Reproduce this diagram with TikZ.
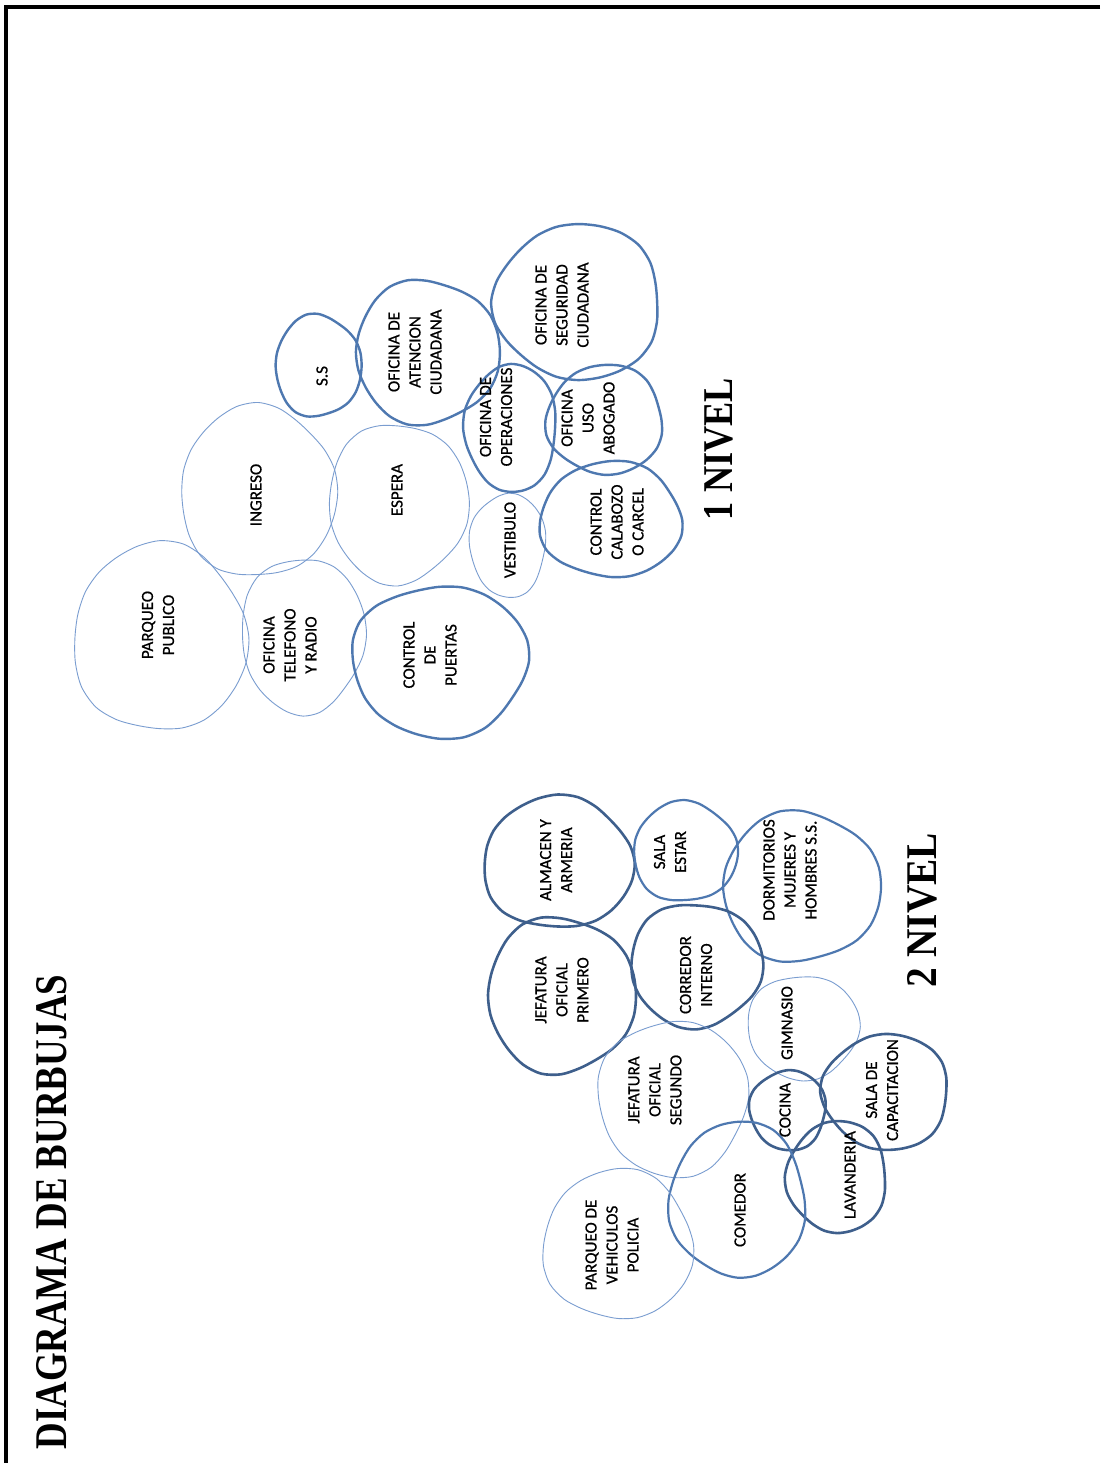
\documentclass[tikz,border=0pt]{standalone}
\usepackage{fontspec}
\usepackage{graphicx}
\newfontfamily\lblfont[FakeBold=0.7]{Carlito}
\newfontfamily\ttlfont{Liberation Serif}
\definecolor{cthin}{HTML}{7A9DD0}
\definecolor{cmed}{HTML}{4E78B0}
\definecolor{cdark}{HTML}{3E5F8C}
\newcommand{\blob}[6]{%
  \draw[#6] plot[smooth cycle, domain=0:345, samples=24, variable=\t]
   ({#1+#3*cos(\t)*(1+0.03*sin(3*\t+#5)+0.018*cos(5*\t+2*#5))},
    {#2+#4*sin(\t)*(1+0.03*sin(3*\t+#5)+0.018*cos(5*\t+2*#5))});}
\begin{document}
\begin{tikzpicture}[x=1pt,y=-1pt,
  lab/.style={font=\lblfont\fontsize{17}{21}\selectfont, rotate=90, align=center, inner sep=0pt},
  thinb/.style={draw=cthin, line width=0.9pt},
  medb/.style={draw=cmed, line width=2.2pt},
  thickb/.style={draw=cmed, line width=2.4pt},
  darkb/.style={draw=cdark, line width=2.6pt},
  bigtitle/.style={rotate=90, inner sep=0pt}]
\useasboundingbox (0,0) rectangle (1100,1463);
\fill[white] (0,0) rectangle (1100,1463);
\draw[line width=4pt] (1100,7.5) -- (6,7.5) -- (6,1463);

% ---------- 1 NIVEL ----------
\blob{160}{638}{87}{94}{10}{thinb}
\blob{258}{492}{78}{86}{40}{thinb}
\blob{318}{366}{43}{51}{70}{thickb}
\blob{427}{352}{72}{72}{100}{thickb}
\blob{398}{503}{70}{80}{130}{thinb}
\blob{303}{635}{62}{78}{160}{thinb}
\blob{440}{661}{88}{76}{190}{thickb}
\blob{508}{545}{38}{52}{220}{thinb}
\blob{511}{428}{46}{64}{250}{thickb}
\blob{578}{302}{83}{78}{280}{thickb}
\blob{605}{420}{58}{55}{310}{thickb}
\blob{611}{520}{71}{58}{340}{thickb}

\node[lab] (parqpub) at (158,625) {PARQUEO\\PUBLICO};
\node[lab] (ingreso) at (256,495) {INGRESO};
\node[lab] (ss) at (322,376) {S.S};
\node[lab] (atencion) at (415,352) {OFICINA DE\\ATENCION\\CIUDADANA};
\node[lab] (espera) at (397,490) {ESPERA};
\node[lab] (telefono) at (290,645) {OFICINA\\TELEFONO\\Y RADIO};
\node[lab] (puertas) at (430,655) {CONTROL\\DE\\PUERTAS};
\node[lab] (vestibulo) at (510,540) {VESTIBULO};
\node[lab] (operaciones) at (496,417) {OFICINA DE\\OPERACIONES};
\node[lab] (seguridad) at (562,305) {OFICINA DE\\SEGURIDAD\\CIUDADANA};
\node[lab] (abogado) at (588,418) {OFICINA\\USO\\ABOGADO};
\node[lab] (calabozo) at (617,522) {CONTROL\\CALABOZO\\O CARCEL};

\node[bigtitle] (nivel1) at (719,449) {\resizebox{142pt}{28pt}{\ttlfont\bfseries 1 NIVEL}};

% ---------- 2 NIVEL ----------
\blob{558}{863}{75}{66}{15}{darkb}
\blob{685}{852}{52}{50}{45}{medb}
\blob{801}{887}{79}{75}{75}{medb}
\blob{561}{995}{74}{78}{105}{darkb}
\blob{696}{965}{66}{62}{135}{darkb}
\blob{803}{1027}{56}{52}{165}{thinb}
\blob{673}{1098}{75}{78}{195}{thinb}
\blob{788}{1110}{38}{40}{225}{darkb}
\blob{886}{1092}{63}{58}{255}{darkb}
\blob{837}{1177}{50}{56}{285}{darkb}
\blob{738}{1200}{68}{78}{315}{medb}
\blob{618}{1245}{75}{75}{345}{thinb}

\node[lab] (almacen) at (556,860) {ALMACEN Y\\ARMERIA};
\node[lab] (salaestar) at (670,852) {SALA\\ESTAR};
\node[lab] (dormitorios) at (790,870) {DORMITORIOS\\MUJERES Y\\HOMBRES S.S.};
\node[lab] (jefprimero) at (562,990) {JEFATURA\\OFICIAL\\PRIMERO};
\node[lab] (corredor) at (696,975) {CORREDOR\\INTERNO};
\node[lab] (gimnasio) at (787,1023) {GIMNASIO};
\node[lab] (jefsegundo) at (655,1090) {JEFATURA\\OFICIAL\\SEGUNDO};
\node[lab] (cocina) at (785,1110) {COCINA};
\node[lab] (capacitacion) at (882,1090) {SALA DE\\CAPACITACION};
\node[lab] (lavanderia) at (850,1175) {LAVANDERIA};
\node[lab] (comedor) at (740,1210) {COMEDOR};
\node[lab] (parqveh) at (612,1245) {PARQUEO DE\\VEHICULOS\\POLICIA};

\node[bigtitle] (nivel2) at (922,910) {\resizebox{154pt}{29pt}{\ttlfont\bfseries 2 NIVEL}};

% ---------- title ----------
\node[bigtitle] (title) at (52,1212) {\resizebox{475pt}{30pt}{\ttlfont\bfseries DIAGRAMA DE BURBUJAS}};
\end{tikzpicture}
\end{document}
